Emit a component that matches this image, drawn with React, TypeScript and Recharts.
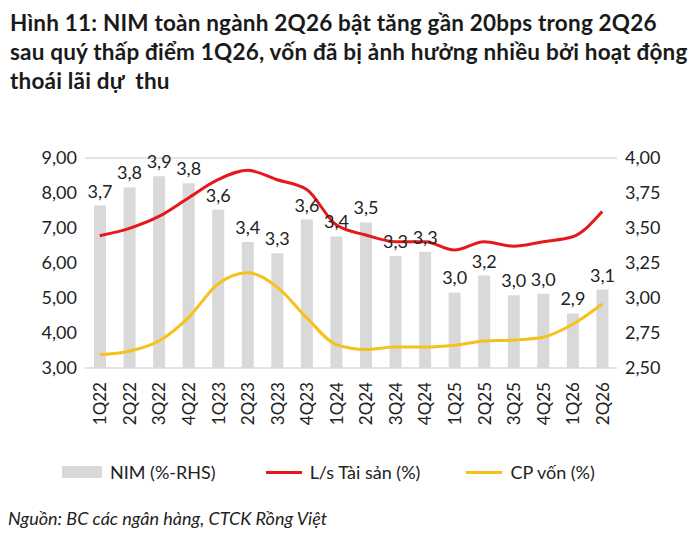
import React from "react";
import { ComposedChart, Bar, Line, XAxis, YAxis, CartesianGrid, LabelList } from "recharts";

const quarters = ["1Q22", "2Q22", "3Q22", "4Q22", "1Q23", "2Q23", "3Q23", "4Q23", "1Q24", "2Q24", "3Q24", "4Q24", "1Q25", "2Q25", "3Q25", "4Q25", "1Q26", "2Q26"];
const nim = [3.66, 3.79, 3.87, 3.82, 3.63, 3.4, 3.32, 3.56, 3.44, 3.54, 3.3, 3.33, 3.04, 3.16, 3.02, 3.03, 2.89, 3.06];
const loanAssets = [6.78, 6.99, 7.33, 7.86, 8.38, 8.65, 8.38, 8.1, 7.09, 6.8, 6.61, 6.61, 6.37, 6.61, 6.48, 6.61, 6.75, 7.47];
const costFunds = [3.38, 3.48, 3.77, 4.44, 5.4, 5.72, 5.31, 4.44, 3.67, 3.53, 3.6, 3.6, 3.65, 3.77, 3.8, 3.88, 4.25, 4.83];
const leftTicks = [3, 4, 5, 6, 7, 8, 9];
const rightTicks = [2.5, 2.75, 3, 3.25, 3.5, 3.75, 4];

const data = quarters.map((q, i) => ({ q, nim: nim[i], la: loanAssets[i], cf: costFunds[i] }));
const font = "Lato, 'Open Sans', sans-serif";
const comma = (v: number, d: number) => v.toFixed(d).replace(".", ",");

const RotTick = (props: any) => {
  const { x, y, payload } = props;
  return (
    <text x={x} y={y + 6} transform={`rotate(-90 ${x} ${y + 6})`} textAnchor="end" dominantBaseline="central" fontSize={17} fill="#222" fontFamily={font}>
      {payload.value}
    </text>
  );
};

export default function App() {
  return (
    <div style={{ position: "absolute", left: 0, top: 0, width: 700, height: 533, background: "#fff", fontFamily: font }}>
      <div style={{ position: "absolute", left: 10, top: 8, width: 680, fontSize: 22.5, fontWeight: 700, lineHeight: "29px", color: "#1a1a1a", letterSpacing: 0.2 }}>
        Hình 11: NIM toàn ngành 2Q26 bật tăng gần 20bps trong 2Q26 sau quý thấp điểm 1Q26, vốn đã bị ảnh hưởng nhiều bởi hoạt động thoái lãi dự&nbsp; thu
      </div>
      <div style={{ position: "absolute", left: 0, top: 140 }}>
        <ComposedChart width={700} height={310} data={data} margin={{ top: 18, right: 5, left: 8, bottom: 0 }}>
          <CartesianGrid vertical={false} stroke="#d9d9d9" strokeWidth={1.5} />
          <XAxis dataKey="q" tick={<RotTick />} tickLine={false} axisLine={false} interval={0} height={82} />
          <YAxis yAxisId="l" domain={[3, 9]} ticks={leftTicks} tickFormatter={(v) => comma(v, 2)} axisLine={false} tickLine={false} width={77} tick={{ fontSize: 18, fill: "#222", fontFamily: font }} />
          <YAxis yAxisId="r" orientation="right" domain={[2.5, 4]} ticks={rightTicks} tickFormatter={(v) => comma(v, 2)} axisLine={false} tickLine={false} width={78} tick={{ fontSize: 18, fill: "#222", fontFamily: font }} />
          <Bar yAxisId="r" dataKey="nim" fill="#d9d9d9" barSize={12} isAnimationActive={false}>
            <LabelList dataKey="nim" position="top" formatter={(v: any) => comma(Number(v), 1)} style={{ fontSize: 18, fill: "#222", fontFamily: font }} offset={8} />
          </Bar>
          <Line yAxisId="l" dataKey="la" type="monotone" stroke="#e4191c" strokeWidth={3} dot={false} isAnimationActive={false} />
          <Line yAxisId="l" dataKey="cf" type="monotone" stroke="#f5c21b" strokeWidth={3} dot={false} isAnimationActive={false} />
        </ComposedChart>
      </div>
      <div style={{ position: "absolute", top: 461, left: 62, fontSize: 18, color: "#222", display: "flex", alignItems: "center" }}>
        <span style={{ display: "inline-block", width: 40, height: 12, background: "#d9d9d9", marginRight: 8 }} />
        <span style={{ marginRight: 50 }}>NIM (%-RHS)</span>
        <span style={{ display: "inline-block", width: 36, height: 3, background: "#e4191c", marginRight: 8 }} />
        <span style={{ marginRight: 46 }}>L/s Tài sản (%)</span>
        <span style={{ display: "inline-block", width: 36, height: 3, background: "#f5c21b", marginRight: 8 }} />
        <span>CP vốn (%)</span>
      </div>
      <div style={{ position: "absolute", top: 507, left: 8, fontSize: 18, fontStyle: "italic", color: "#222" }}>
        Nguồn: BC các ngân hàng, CTCK Rồng Việt
      </div>
    </div>
  );
}
